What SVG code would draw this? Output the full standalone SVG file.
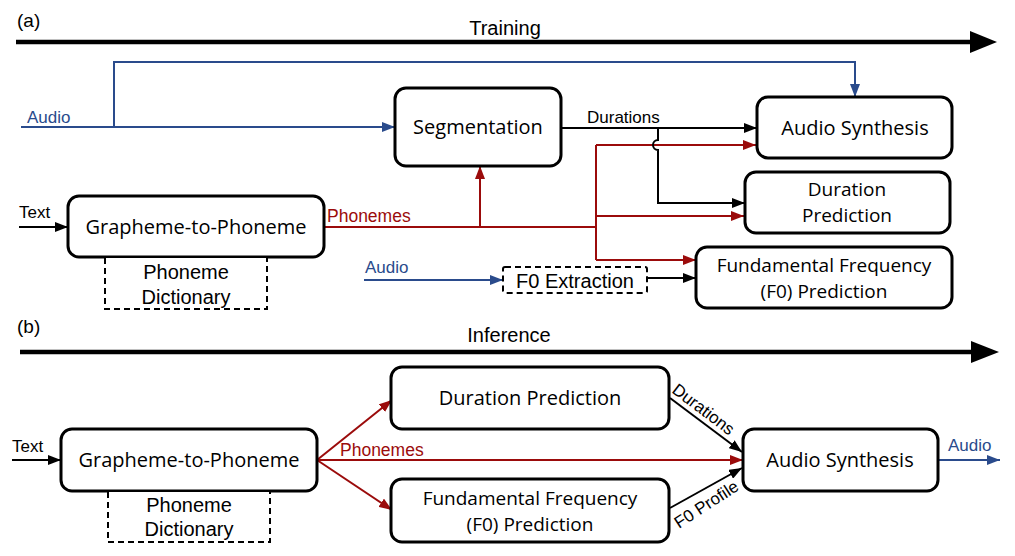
<svg xmlns="http://www.w3.org/2000/svg" width="1015" height="556" viewBox="0 0 1015 556">
<style>
.node{fill:#fff;stroke:#000;stroke-width:3}
.dash{fill:#fff;stroke:#000;stroke-width:2;stroke-dasharray:6 4}
.nt{font-family:"Open Sans","DejaVu Sans",sans-serif;font-size:20px;fill:#000;text-anchor:middle}
.nt2{font-family:"Open Sans","DejaVu Sans",sans-serif;font-size:19px;fill:#000;text-anchor:middle}
.at{font-family:"Liberation Sans",Arial,sans-serif;fill:#000}
.k{fill:none;stroke:#000;stroke-width:2}
.r{fill:none;stroke:#9b0b0b;stroke-width:2}
.b{fill:none;stroke:#2a4b8c;stroke-width:2}
.big{fill:none;stroke:#000;stroke-width:4.5}
</style>
<defs>
<marker id="ak" markerUnits="userSpaceOnUse" markerWidth="13" markerHeight="10" refX="13" refY="5" orient="auto"><path d="M0,0 L13,5 L0,10 z" fill="#000"/></marker>
<marker id="ar" markerUnits="userSpaceOnUse" markerWidth="13" markerHeight="10" refX="13" refY="5" orient="auto"><path d="M0,0 L13,5 L0,10 z" fill="#9b0b0b"/></marker>
<marker id="ab" markerUnits="userSpaceOnUse" markerWidth="13" markerHeight="10" refX="13" refY="5" orient="auto"><path d="M0,0 L13,5 L0,10 z" fill="#2a4b8c"/></marker>
</defs>

<g id="labels">
<text class="at" x="17" y="27" font-size="19">(a)</text>
<text class="at" x="505" y="35" font-size="20" text-anchor="middle">Training</text>
<text class="at" x="17" y="333" font-size="19">(b)</text>
<text class="at" x="509" y="342" font-size="20" text-anchor="middle">Inference</text>
</g>

<g id="connectors">
<!-- timeline arrows -->
<line class="big" x1="16" y1="42" x2="972" y2="42"/>
<polygon points="970,31 997,42 970,53" fill="#000"/>
<line class="big" x1="20" y1="352" x2="973" y2="352"/>
<polygon points="971,341 999,352 971,363" fill="#000"/>

<!-- (a) -->
<path class="b" d="M21,127 H395" marker-end="url(#ab)"/>
<path class="b" d="M114,127 V62 H855 V97" marker-end="url(#ab)"/>
<text class="at" x="27" y="123" font-size="17" style="fill:#2a4b8c">Audio</text>

<path class="k" d="M19,227 H68" marker-end="url(#ak)"/>
<text class="at" x="19" y="218" font-size="17">Text</text>

<path class="r" d="M324,227 H596"/>
<path class="r" d="M480,227 V166" marker-end="url(#ar)"/>
<path class="r" d="M596,145 V260"/>
<path class="r" d="M596,145 H756" marker-end="url(#ar)"/>
<path class="r" d="M596,216 H744" marker-end="url(#ar)"/>
<path class="r" d="M596,260 H696" marker-end="url(#ar)"/>
<text class="at" x="327" y="222" font-size="17.5" style="fill:#9b0b0b">Phonemes</text>

<path class="k" d="M561,128 H757" marker-end="url(#ak)"/>
<path class="k" d="M658,128 V140 A5,5 0 0 0 658,150 V203 H745" marker-end="url(#ak)"/>
<text class="at" x="587" y="123" font-size="17">Durations</text>

<path class="b" d="M364,280 H503" marker-end="url(#ab)"/>
<text class="at" x="365" y="273" font-size="17" style="fill:#2a4b8c">Audio</text>
<path class="k" d="M647,278 H696" marker-end="url(#ak)"/>

<!-- (b) -->
<path class="k" d="M12,460 H61" marker-end="url(#ak)"/>
<text class="at" x="12" y="452" font-size="17">Text</text>
<path class="r" d="M317,460 L392,400" marker-end="url(#ar)"/>
<path class="r" d="M317,460 L392,510" marker-end="url(#ar)"/>
<path class="r" d="M317,460 H743" marker-end="url(#ar)"/>
<text class="at" x="340" y="456" font-size="17.5" style="fill:#9b0b0b">Phonemes</text>
<path class="k" d="M670,398 L742,452" marker-end="url(#ak)"/>
<path class="k" d="M670,508 L742,468" marker-end="url(#ak)"/>
<text class="at" font-size="17" transform="translate(671,392) rotate(37)">Durations</text>
<text class="at" font-size="17" transform="translate(679,529) rotate(-33)">F0 Profile</text>
<path class="b" d="M938,460 H1000" marker-end="url(#ab)"/>
<text class="at" x="948" y="451" font-size="17" style="fill:#2a4b8c">Audio</text>
</g>

<g id="seg"><rect class="node" x="395" y="88" width="166" height="78" rx="11"/><text class="nt" x="478" y="134">Segmentation</text></g>
<g id="synth-a"><rect class="node" x="757" y="97" width="195" height="61" rx="11"/><text class="nt" x="855" y="135">Audio Synthesis</text></g>
<g id="dur-a"><rect class="node" x="745" y="172" width="205" height="61" rx="11"/><text class="nt2" x="847" y="196">Duration</text><text class="nt2" x="847" y="222">Prediction</text></g>
<g id="f0-a"><rect class="node" x="696" y="247" width="256" height="61" rx="11"/><text class="nt2" x="824" y="272">Fundamental Frequency</text><text class="nt2" x="824" y="298">(F0) Prediction</text></g>
<g id="g2p-a"><rect class="node" x="68" y="196" width="256" height="61" rx="11"/><text class="nt" x="196" y="234">Grapheme-to-Phoneme</text></g>
<g id="dict-a"><path class="dash" d="M105,258 V309 H267 V258"/><text class="at" x="186" y="279" font-size="20" text-anchor="middle">Phoneme</text><text class="at" x="186" y="304" font-size="20" text-anchor="middle">Dictionary</text></g>
<g id="f0ext-a"><rect class="dash" x="503" y="267" width="144" height="26" rx="2"/><text class="at" x="575" y="288" font-size="20" text-anchor="middle">F0 Extraction</text></g>

<g id="g2p-b"><rect class="node" x="61" y="429" width="256" height="62" rx="11"/><text class="nt" x="189" y="467">Grapheme-to-Phoneme</text></g>
<g id="dict-b"><path class="dash" d="M108,492 V542 H270 V492"/><text class="at" x="189" y="512" font-size="20" text-anchor="middle">Phoneme</text><text class="at" x="189" y="536" font-size="20" text-anchor="middle">Dictionary</text></g>
<g id="dur-b"><rect class="node" x="391" y="367" width="278" height="62" rx="11"/><text class="nt" x="530" y="405">Duration Prediction</text></g>
<g id="f0-b"><rect class="node" x="391" y="479" width="278" height="63" rx="11"/><text class="nt2" x="530" y="505">Fundamental Frequency</text><text class="nt2" x="530" y="531">(F0) Prediction</text></g>
<g id="synth-b"><rect class="node" x="743" y="429" width="195" height="62" rx="11"/><text class="nt" x="840" y="467">Audio Synthesis</text></g>
</svg>
